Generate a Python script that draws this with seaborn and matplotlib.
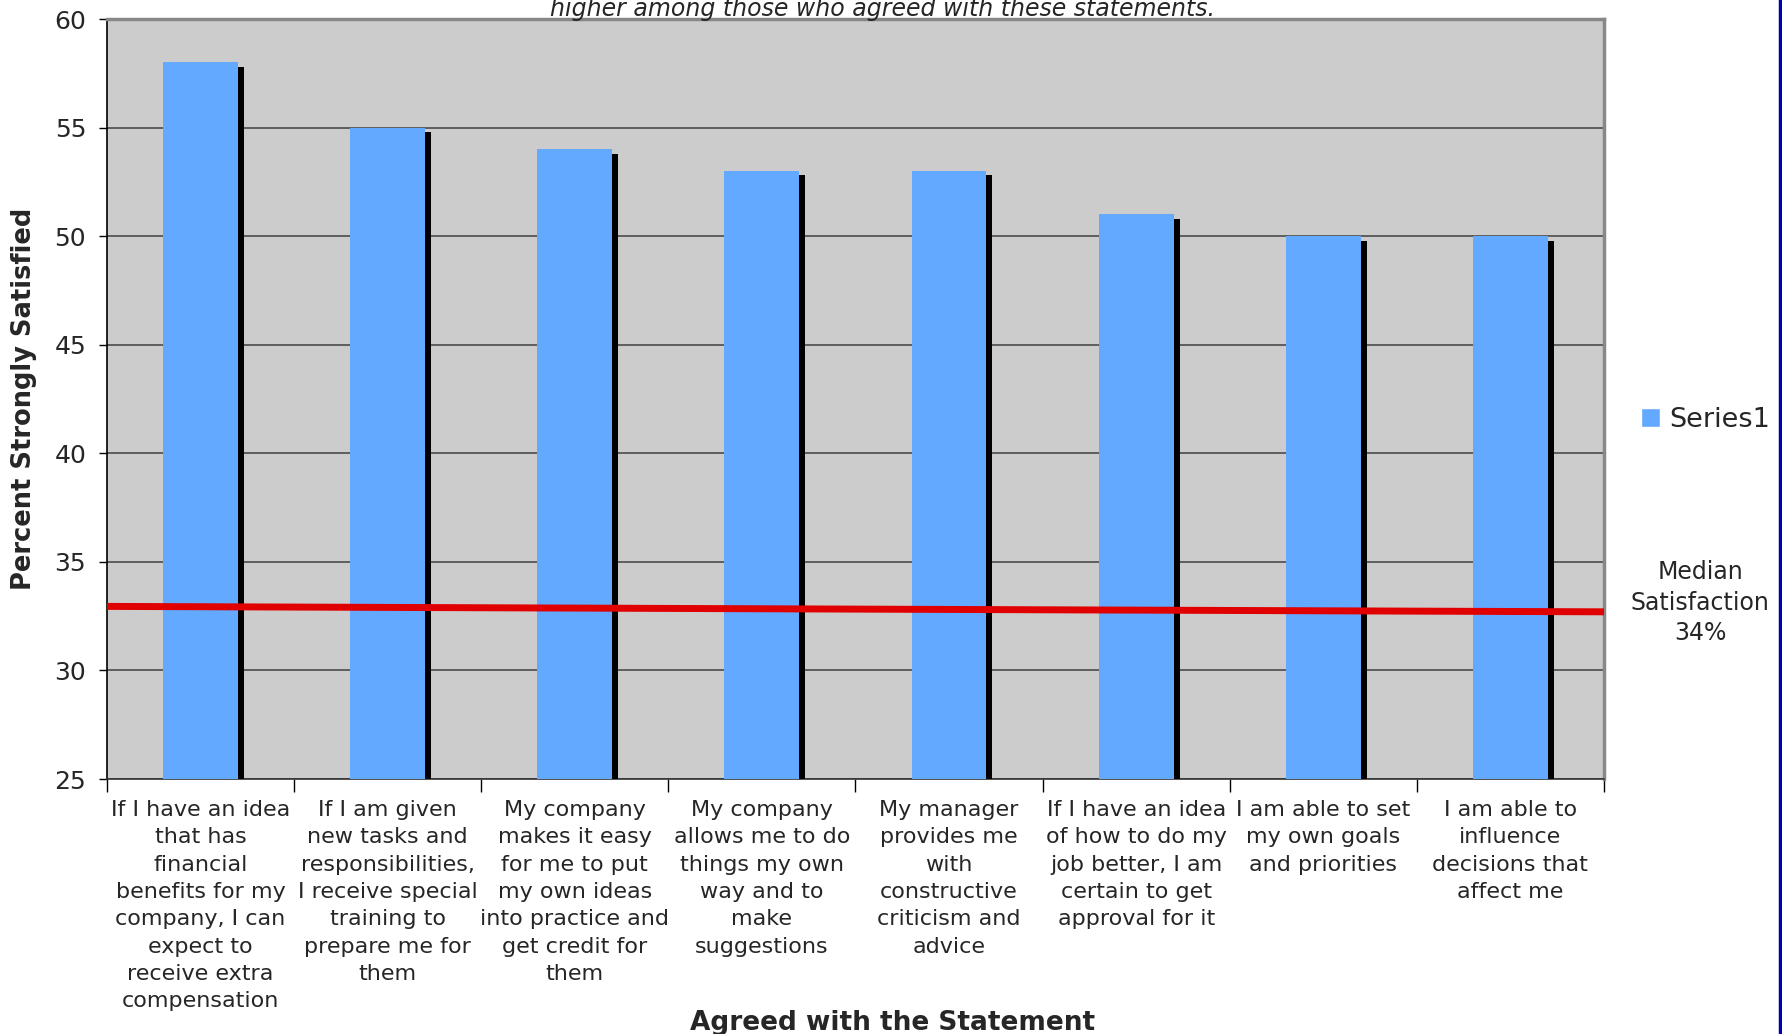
import matplotlib
matplotlib.use("Agg")
import matplotlib.pyplot as plt
import matplotlib.patheffects as pe
from matplotlib.patches import Patch
import seaborn as sns
import pandas as pd

# data
statements = [
    "If I have an idea\nthat has\nfinancial\nbenefits for my\ncompany, I can\nexpect to\nreceive extra\ncompensation",
    "If I am given\nnew tasks and\nresponsibilities,\nI receive special\ntraining to\nprepare me for\nthem",
    "My company\nmakes it easy\nfor me to put\nmy own ideas\ninto practice and\nget credit for\nthem",
    "My company\nallows me to do\nthings my own\nway and to\nmake\nsuggestions",
    "My manager\nprovides me\nwith\nconstructive\ncriticism and\nadvice",
    "If I have an idea\nof how to do my\njob better, I am\ncertain to get\napproval for it",
    "I am able to set\nmy own goals\nand priorities",
    "I am able to\ninfluence\ndecisions that\naffect me",
]
pct_satisfied = [58, 55, 54, 53, 53, 51, 50, 50]
median_line = [32.95, 32.7]   # red line, left end -> right end
median_label = "Median\nSatisfaction\n34%"

df = pd.DataFrame({"statement": statements, "pct": pct_satisfied})
bar_color = "#63a9ff"

sns.set_style("white")
plt.rcParams['font.family'] = ['DejaVu Sans']

fig = plt.figure(figsize=(17.83, 10.34), dpi=100)
ax = fig.add_axes([0.060, 0.2466, 0.8396, 0.735])
ax.set_facecolor("#cccccc")

sns.barplot(data=df, x="statement", y="pct", color=bar_color, saturation=1,
            width=0.40, ax=ax, zorder=3)
for bar in ax.patches:
    bar.set_edgecolor("none")
    bar.set_path_effects([pe.SimplePatchShadow(offset=(4.3, -3.2), shadow_rgbFace="black",
                                               alpha=1.0), pe.Normal()])

# red median line
ax.plot([-0.5, len(statements) - 0.5], median_line, color="#e00000", lw=5, zorder=4,
        solid_capstyle="butt")

ax.set_ylim(25, 60)
ax.set_xlim(-0.5, len(statements) - 0.5)
ax.set_yticks(range(25, 61, 5))
ax.yaxis.grid(True, color="#555555", lw=1.3, zorder=0)
ax.set_axisbelow(True)

ax.set_xticks(range(len(statements)))
ax.set_xticklabels(statements, fontsize=16, linespacing=1.46, va="top", ha="center")
ax.set_xticks([i + 0.5 for i in range(-1, len(statements))], minor=True)
ax.tick_params(axis="x", which="major", length=0, pad=15)
ax.tick_params(axis="x", which="minor", length=9, width=1, color="black", direction="out", bottom=True)
ax.tick_params(axis="y", length=6, width=1, color="black", direction="out", left=True,
               labelsize=18, pad=9)

for side in ["top", "right"]:
    ax.spines[side].set_color("#888888")
    ax.spines[side].set_linewidth(2.5)
ax.spines["left"].set_color("black")
ax.spines["bottom"].set_color("#333333")
for side in ["left", "bottom"]:
    ax.spines[side].set_linewidth(1.2)

ax.set_ylabel("Percent Strongly Satisfied", fontsize=18.5, fontweight="bold")
ax.yaxis.set_label_coords(-0.047, 0.5)
ax.set_xlabel("Agreed with the Statement", fontsize=19, fontweight="bold")
ax.xaxis.set_label_coords(0.525, -0.304)

ax.legend(handles=[Patch(facecolor=bar_color, label="Series1")],
          loc="center left", bbox_to_anchor=(1.0085, 0.473), frameon=False,
          fontsize=19.5, handlelength=0.7, handleheight=0.7, handletextpad=0.35)

fig.text(0.9535, 0.417, median_label, ha="center", va="center", fontsize=17, linespacing=1.35)

fig.text(0.495, 1 - 21 / 1034, "higher among those who agreed with these statements.",
         ha="center", va="bottom", fontsize=17, style="italic")

fig.add_artist(plt.Line2D([0.9985, 0.9985], [0, 1], transform=fig.transFigure,
                          color="#0000aa", lw=2.5))

fig.savefig("out.png", dpi=100)
